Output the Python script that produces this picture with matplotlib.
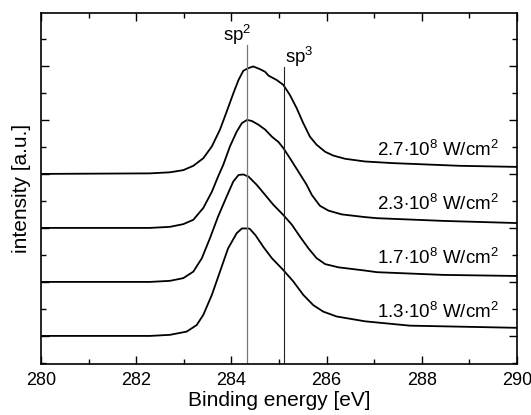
import numpy as np
import matplotlib
matplotlib.use("Agg")
import matplotlib.pyplot as plt
from matplotlib.ticker import MultipleLocator

plt.rcParams['font.family'] = ['Liberation Sans', 'DejaVu Sans']
plt.rcParams['mathtext.fontset'] = 'custom'
plt.rcParams['mathtext.rm'] = 'Liberation Sans'
plt.rcParams['mathtext.it'] = 'Liberation Sans:italic'

# C1s spectra for four laser intensities, each offset by one unit
e_13 = [280.00, 282.29, 282.71, 283.06, 283.27, 283.41, 283.59, 283.76, 283.93, 284.11,
        284.22, 284.36, 284.39, 284.51, 284.67, 284.85, 285.09, 285.30, 285.51, 285.72,
        285.93, 286.21, 286.81, 287.75, 290.00]
i_13 = [0.00, 0.00, 0.02, 0.08, 0.20, 0.39, 0.76, 1.19, 1.62, 1.90,
        1.99, 1.99, 1.98, 1.86, 1.65, 1.44, 1.22, 1.01, 0.76, 0.57,
        0.45, 0.36, 0.27, 0.19, 0.15]

e_17 = [280.00, 282.29, 282.71, 282.99, 283.20, 283.38, 283.55, 283.72, 283.90, 284.04,
        284.15, 284.25, 284.36, 284.53, 284.71, 284.88, 285.09, 285.27, 285.44, 285.62,
        285.79, 285.97, 286.25, 286.81, 287.06, 288.45, 290.00]
i_17 = [1.00, 1.00, 1.02, 1.07, 1.19, 1.44, 1.81, 2.21, 2.58, 2.86,
        2.98, 2.99, 2.95, 2.80, 2.61, 2.43, 2.24, 2.06, 1.84, 1.62,
        1.44, 1.33, 1.27, 1.21, 1.18, 1.13, 1.11]

e_23 = [280.00, 282.29, 282.71, 282.99, 283.20, 283.41, 283.59, 283.72, 283.83, 283.97,
        284.11, 284.22, 284.33, 284.43, 284.57, 284.71, 284.85, 284.99, 285.09, 285.23,
        285.41, 285.58, 285.69, 285.86, 286.04, 286.32, 286.81, 287.06, 288.45, 290.00]
i_23 = [2.00, 2.00, 2.02, 2.07, 2.15, 2.37, 2.67, 2.95, 3.17, 3.51,
        3.78, 3.94, 4.00, 3.98, 3.91, 3.82, 3.69, 3.59, 3.48, 3.29,
        3.04, 2.80, 2.61, 2.41, 2.32, 2.25, 2.20, 2.18, 2.13, 2.09]

e_27 = [280.00, 282.29, 282.71, 282.99, 283.20, 283.41, 283.59, 283.76, 283.90, 284.04,
        284.15, 284.25, 284.36, 284.46, 284.60, 284.71, 284.78, 284.95, 285.09, 285.23,
        285.37, 285.51, 285.65, 285.79, 285.97, 286.14, 286.39, 286.81, 287.39, 288.80,
        290.00]
i_27 = [3.00, 3.01, 3.03, 3.07, 3.15, 3.29, 3.51, 3.82, 4.15, 4.49,
        4.74, 4.91, 4.96, 4.99, 4.94, 4.89, 4.82, 4.74, 4.65, 4.46,
        4.22, 3.94, 3.69, 3.54, 3.41, 3.34, 3.28, 3.23, 3.20, 3.15,
        3.13]

labels = [r'1.3$\cdot$10$^8$ W/cm$^2$', r'1.7$\cdot$10$^8$ W/cm$^2$',
          r'2.3$\cdot$10$^8$ W/cm$^2$', r'2.7$\cdot$10$^8$ W/cm$^2$']
label_y = [0.33, 1.33, 2.33, 3.33]

sp2_pos = 284.33
sp3_pos = 285.1

fig = plt.figure(figsize=(5.31, 4.15), dpi=100)
ax = fig.add_axes([0.0772, 0.1229, 0.8964, 0.8458])

for e, i in [(e_13, i_13), (e_17, i_17), (e_23, i_23), (e_27, i_27)]:
    ax.plot(e, i, color='black', lw=1.3, solid_joinstyle='round')

for lab, y in zip(labels, label_y):
    ax.text(289.62, y, lab, ha='right', va='baseline', fontsize=13.5)

ax.plot([sp2_pos, sp2_pos], [-0.6, 5.39], color='#777777', lw=0.9)
ax.plot([sp3_pos, sp3_pos], [-0.6, 4.98], color='#222222', lw=0.8)
ax.text(sp2_pos + 0.1, 5.47, r'sp$^2$', ha='right', va='baseline', fontsize=13.5)
ax.text(sp3_pos + 0.03, 5.06, r'sp$^3$', ha='left', va='baseline', fontsize=13.5)

ax.set_xlim(280, 290)
ax.set_ylim(-0.52, 5.98)
ax.xaxis.set_major_locator(MultipleLocator(2))
ax.xaxis.set_minor_locator(MultipleLocator(1))
ax.yaxis.set_major_locator(MultipleLocator(1))
ax.yaxis.set_minor_locator(MultipleLocator(0.5))
ax.tick_params(which='both', direction='in', top=True, right=True, width=1.0)
ax.tick_params(which='major', length=6)
ax.tick_params(which='minor', length=3.5)
ax.tick_params(axis='x', labelsize=13, pad=6)
ax.set_yticklabels([])
for s in ax.spines.values():
    s.set_linewidth(1.2)

ax.set_xlabel('Binding energy [eV]', fontsize=15, labelpad=1)
ax.set_ylabel('intensity [a.u.]', fontsize=15, labelpad=4)

fig.savefig('out.png', dpi=100)
